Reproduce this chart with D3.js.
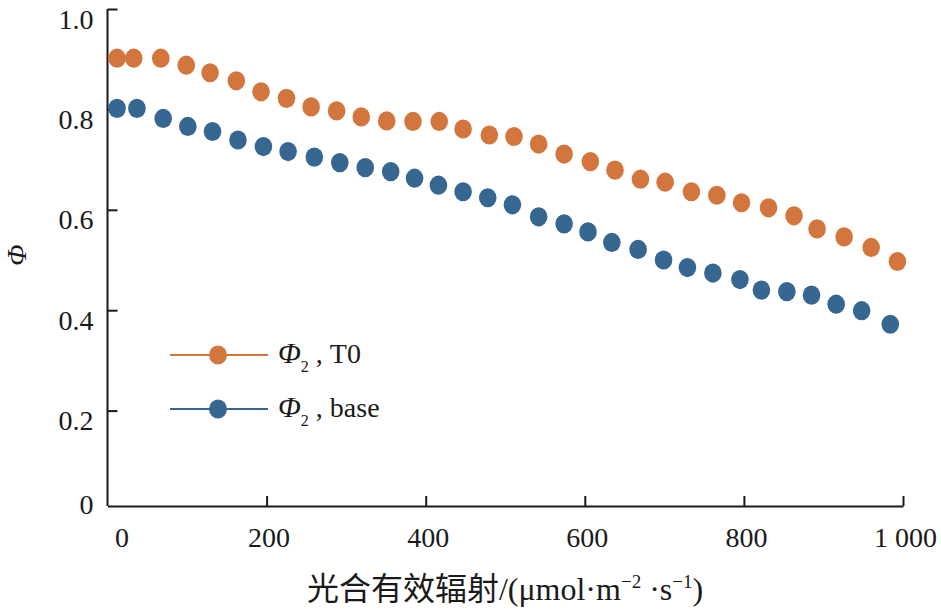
<!DOCTYPE html>
<html>
<head>
<meta charset="utf-8">
<script src="https://cdn.jsdelivr.net/npm/d3@7"></script>
<style>
    body { margin: 0; background: #fff; }
    svg text { font-family: "Liberation Serif", "Times New Roman", "Noto Sans CJK SC", serif; fill: #1a1a1a; }
</style>
</head>
<body>
<svg id="chart" width="941" height="613"></svg>
<script>

// PAR values (x) for each series
let parT0 = [12, 33, 67, 99, 129, 162, 193, 225, 256, 288, 319, 351, 384, 417, 447, 480,
             511, 542, 574, 607, 638, 670, 701, 734, 766, 797, 831, 863, 892, 926, 960, 993];
let phiT0 = [0.902, 0.902, 0.902, 0.888, 0.873, 0.857, 0.835, 0.822, 0.805, 0.797, 0.785, 0.777, 0.776, 0.776, 0.761, 0.749,
             0.746, 0.731, 0.711, 0.696, 0.679, 0.661, 0.655, 0.636, 0.629, 0.614, 0.604, 0.588, 0.562, 0.546, 0.525, 0.497];

let parBase = [12, 37, 70, 101, 132, 164, 196, 227, 260, 292, 324, 356, 386, 416, 447, 478,
               509, 542, 574, 604, 634, 667, 699, 729, 761, 795, 822, 854, 885, 916, 948, 984];
let phiBase = [0.802, 0.802, 0.782, 0.766, 0.756, 0.739, 0.726, 0.716, 0.705, 0.694, 0.684, 0.676, 0.663, 0.649, 0.636, 0.624,
               0.610, 0.586, 0.572, 0.556, 0.535, 0.521, 0.500, 0.485, 0.474, 0.461, 0.440, 0.437, 0.430, 0.412, 0.399, 0.372];

let xTicks = [0, 200, 400, 600, 800, 1000];
let yTicks = [0, 0.2, 0.4, 0.6, 0.8, 1.0];

let seriesNames = ['T0', 'base'];
let seriesColors = ['#d2763d', '#356791'];

let svg = d3.select('#chart');

let x = d3.scaleLinear().domain([0, 1000]).range([107.5, 903]);
let y = d3.scaleLinear().domain([0, 1]).range([511, 9]);

// the x axis line sits a touch above the zero level in the original
let axisY = y(0) - 5;

// x axis
let xAxis = svg.append('g')
    .attr('transform', 'translate(0,' + axisY + ')')
    .call(d3.axisBottom(x)
        .tickValues(xTicks)
        .tickSizeInner(-10)
        .tickSizeOuter(0)
        .tickFormat(d => d == 1000 ? '1 000' : d));

xAxis.select('.domain').attr('stroke', '#1a1a1a').attr('stroke-width', 2);
xAxis.selectAll('.tick line').attr('stroke', '#1a1a1a').attr('stroke-width', 2)
    .attr('display', d => d == 0 ? 'none' : null);
xAxis.selectAll('.tick text')
    .attr('y', 41).attr('dy', null)
    .attr('x', d => d == 0 ? 14 : 2)
    .style('font-size', '28px');

// y axis
let yAxis = svg.append('g')
    .attr('transform', 'translate(' + x(0) + ',0)')
    .call(d3.axisLeft(y)
        .tickValues(yTicks)
        .tickSizeInner(-10)
        .tickSizeOuter(0)
        .tickFormat(d => d == 0 ? '0' : d3.format('.1f')(d)));

yAxis.select('.domain').attr('d', 'M0,' + y(1) + 'V' + axisY)
    .attr('stroke', '#1a1a1a').attr('stroke-width', 2);
yAxis.selectAll('.tick line').attr('stroke', '#1a1a1a').attr('stroke-width', 2)
    .attr('display', d => d == 0 ? 'none' : null);
yAxis.selectAll('.tick text')
    .attr('x', -14)
    .attr('dy', null)
    .attr('y', d => d == 0 ? 2 : 19)
    .style('font-size', '28px');

// axis titles
let xTitle = svg.append('text')
    .attr('x', 505).attr('y', 600)
    .attr('text-anchor', 'middle')
    .style('font-size', '32px');

xTitle.append('tspan').text('光合有效辐射/(μmol·m');
xTitle.append('tspan').attr('dy', -12).style('font-size', '19px').text('−2');
xTitle.append('tspan').attr('dy', 12).text(' ·s');
xTitle.append('tspan').attr('dy', -12).style('font-size', '19px').text('−1');
xTitle.append('tspan').attr('dy', 12).text(')');

svg.append('text')
    .attr('transform', 'translate(26,255) rotate(-90)')
    .attr('text-anchor', 'middle')
    .style('font-size', '28px')
    .style('font-style', 'italic')
    .text('Φ');

// points
let series = [
    parT0.map((v, i) => ({par: v, phi: phiT0[i]})),
    parBase.map((v, i) => ({par: v, phi: phiBase[i]}))
];

series.forEach(function (pts, k) {
    svg.append('g').selectAll('ellipse')
        .data(pts)
        .enter()
        .append('ellipse')
        .attr('cx', d => x(d.par))
        .attr('cy', d => y(d.phi))
        .attr('rx', 8.8)
        .attr('ry', 9.6)
        .attr('fill', seriesColors[k]);
});

// legend
let legend = svg.append('g').selectAll('g')
    .data(seriesNames)
    .enter()
    .append('g')
    .attr('transform', (d, i) => 'translate(170,' + (355 + i * 54) + ')');

legend.append('line')
    .attr('x1', 0).attr('x2', 98)
    .attr('stroke', (d, i) => seriesColors[i])
    .attr('stroke-width', 2);

legend.append('ellipse')
    .attr('cx', 48).attr('rx', 9).attr('ry', 9.6)
    .attr('fill', (d, i) => seriesColors[i]);

let ltext = legend.append('text')
    .attr('x', 108).attr('y', 8)
    .style('font-size', '28px');

ltext.append('tspan').style('font-style', 'italic').style('font-size', '30px').text('Φ');
ltext.append('tspan').attr('dy', 9).style('font-size', '16px').text('2');
ltext.append('tspan').attr('dy', -9).text(d => ' , ' + d);

</script>
</body>
</html>
